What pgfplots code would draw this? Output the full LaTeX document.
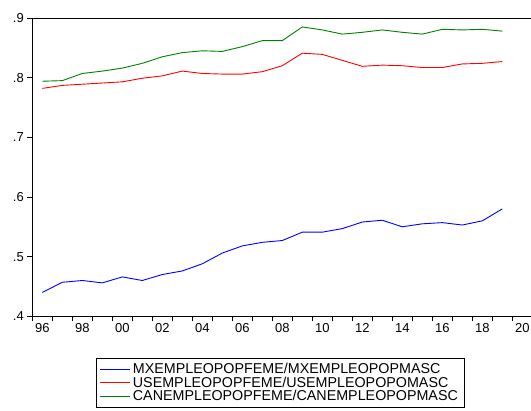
\documentclass[border=0pt]{standalone}
\usepackage{pgfplots}
\pgfplotsset{compat=1.18}
\usepackage{fontspec}
\setmainfont{Liberation Sans}
\pgfplotstableread{
year mx us can
1996 0.440 0.782 0.794
1997 0.457 0.787 0.795
1998 0.460 0.789 0.807
1999 0.456 0.791 0.811
2000 0.466 0.793 0.816
2001 0.460 0.799 0.824
2002 0.470 0.803 0.835
2003 0.476 0.811 0.842
2004 0.488 0.807 0.845
2005 0.506 0.806 0.844
2006 0.518 0.806 0.852
2007 0.524 0.810 0.862
2008 0.527 0.820 0.862
2009 0.541 0.841 0.885
2010 0.541 0.839 0.880
2011 0.547 0.829 0.873
2012 0.558 0.819 0.876
2013 0.561 0.821 0.880
2014 0.550 0.820 0.876
2015 0.555 0.817 0.873
2016 0.557 0.817 0.881
2017 0.553 0.823 0.880
2018 0.560 0.824 0.881
2019 0.580 0.827 0.878
}\datatable
\definecolor{evblue}{RGB}{0,0,255}
\definecolor{evred}{RGB}{255,0,0}
\definecolor{evgreen}{RGB}{0,128,0}
\begin{document}
\begin{tikzpicture}[x=1pt,y=1pt]
\begin{axis}[
  at={(32.3pt,94.7pt)}, anchor=south west,
  scale only axis, width=500pt, height=298.3pt,
  xmin=1995.5, xmax=2020.5, ymin=0.4, ymax=0.9,
  axis line style={line width=0.8pt},
  tick style={black, line width=0.6pt},
  tick align=outside,
  xtick pos=bottom, ytick pos=left,
  major tick length=5pt,
  xtick={1995.5,1996.5,...,2020.5}, xticklabels={},
  extra x ticks={1996,1998,...,2020},
  extra x tick labels={96,98,00,02,04,06,08,10,12,14,16,18,20},
  extra x tick style={major tick length=0pt, xticklabel style={yshift=-4pt}},
  ytick={0.4,0.5,0.6,0.7,0.8,0.9},
  yticklabels={.4,.5,.6,.7,.8,.9},
  ticklabel style={font=\fontsize{13}{15}\selectfont},
  legend style={at={(0.1268,-0.1398)}, anchor=north west, draw=black,
    line width=0.6pt, font=\fontsize{14.3}{16}\selectfont, row sep=-2.2pt,
    inner xsep=4pt, inner ysep=3pt},
  legend cell align=left,
  legend image code/.code={\draw[#1] (0pt,0pt) -- (30pt,0pt);},
]
\addplot[evblue, line width=0.9pt] table[x=year,y=mx]{\datatable};
\addplot[evred, line width=0.9pt] table[x=year,y=us]{\datatable};
\addplot[evgreen, line width=0.9pt] table[x=year,y=can]{\datatable};
\legend{MXEMPLEOPOPFEME/MXEMPLEOPOPMASC,USEMPLEOPOPFEME/USEMPLEOPOPOMASC,CANEMPLEOPOPFEME/CANEMPLEOPOPMASC}
\end{axis}
\pgfresetboundingbox
\useasboundingbox (0,0) rectangle (531,411);
\end{tikzpicture}
\end{document}
